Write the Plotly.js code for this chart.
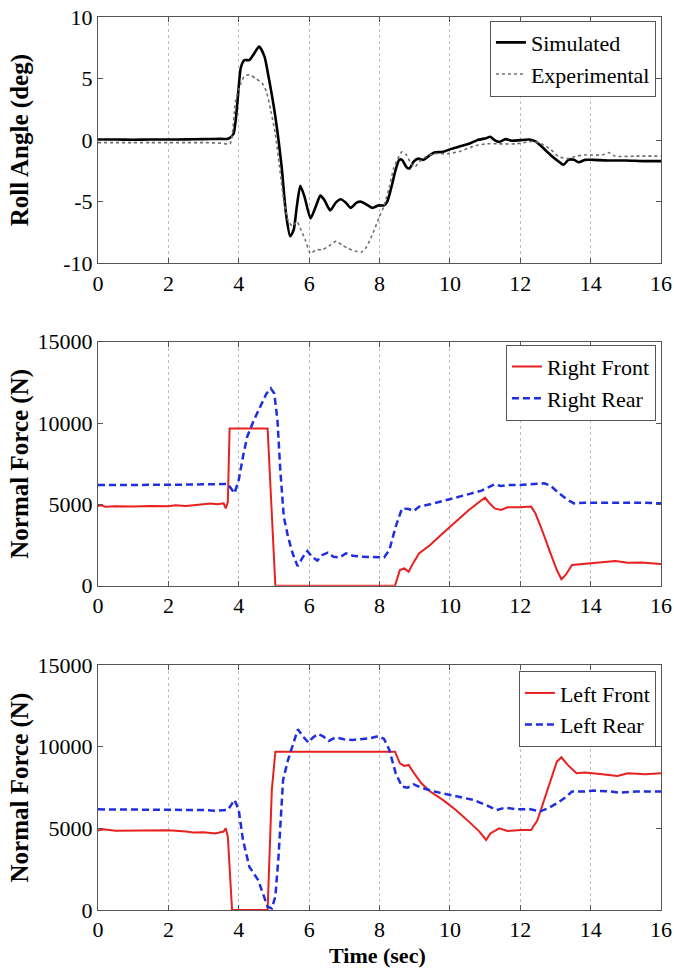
<!DOCTYPE html>
<html>
<head>
<meta charset="utf-8">
<script src="https://cdn.plot.ly/plotly-3.0.1.min.js"></script>
<style>html,body{margin:0;padding:0;background:#fff;}#chart{width:674px;height:971px;}</style>
</head>
<body>
<div id="chart"></div>
<script>
// ---- Roll angle (deg) ----
const simT = [0,0.5,1,1.5,2,2.5,3,3.5,3.7,3.85,4.06,4.16,4.3,4.43,4.58,4.73,4.85,5.04,5.22,5.34,5.46,5.56,5.65,5.75,5.87,6.04,6.2,6.32,6.44,6.6,6.75,6.9,7.05,7.18,7.36,7.48,7.67,7.8,7.97,8.13,8.22,8.34,8.46,8.56,8.64,8.77,8.85,8.97,9.1,9.25,9.44,9.56,9.8,10.05,10.3,10.54,10.78,11.03,11.15,11.27,11.4,11.58,11.76,12.0,12.25,12.43,12.6,12.86,13.1,13.23,13.37,13.53,13.66,13.84,14.08,14.5,15,15.5,16];
const simRoll = [0.05,0.05,0.03,0.05,0.05,0.06,0.08,0.1,0.12,0.5,5.9,6.5,6.5,7.0,7.6,6.8,5.1,1.9,-2.2,-5.9,-7.8,-7.3,-5.4,-3.7,-4.6,-6.35,-5.3,-4.5,-4.9,-5.7,-5.1,-4.8,-5.1,-5.5,-5.05,-5.0,-5.3,-5.5,-5.3,-5.3,-5.0,-3.8,-2.4,-1.6,-1.6,-2.2,-2.3,-1.75,-1.5,-1.6,-1.2,-1.0,-0.95,-0.7,-0.5,-0.3,0.0,0.16,0.27,0.0,-0.14,0.08,-0.05,0.0,0.05,-0.1,-0.5,-1.2,-1.75,-2.0,-1.6,-1.6,-1.8,-1.6,-1.6,-1.65,-1.65,-1.7,-1.7];
const expT = [0,0.5,1,1.5,2,2.5,3,3.5,3.75,3.91,4.06,4.16,4.3,4.49,4.67,4.79,4.91,5.04,5.16,5.28,5.4,5.53,5.65,5.77,5.89,6.04,6.2,6.38,6.56,6.77,6.93,7.11,7.3,7.48,7.6,7.73,7.85,8.0,8.12,8.28,8.4,8.52,8.64,8.77,8.89,9.0,9.13,9.32,9.56,9.93,10.3,10.66,11.03,11.4,11.88,12.37,12.6,12.86,13.1,13.35,13.6,13.84,14.33,14.5,14.7,15.3,16];
const expRoll = [-0.2,-0.2,-0.2,-0.2,-0.2,-0.2,-0.2,-0.25,-0.3,3.2,4.6,5.2,5.3,5.0,4.6,3.9,2.4,0.5,-2.2,-4.9,-6.5,-7.0,-6.6,-7.3,-8.1,-9.2,-8.9,-8.9,-8.6,-8.2,-8.5,-8.8,-9.0,-9.1,-8.8,-8.1,-7.3,-6.2,-5.4,-3.8,-2.3,-1.5,-0.95,-1.2,-1.9,-2.2,-1.75,-1.35,-1.1,-1.1,-0.9,-0.5,-0.3,-0.3,-0.3,-0.1,-0.3,-0.75,-1.35,-1.5,-1.3,-1.2,-1.2,-1.0,-1.3,-1.3,-1.3];

// ---- Right side normal force (N) ----
const rfT = [0,0.1,0.2,0.5,1,1.5,2,2.2,2.5,2.8,3,3.2,3.4,3.57,3.63,3.69,3.74,4.82,5.04,8.44,8.58,8.7,8.83,8.95,9.13,9.44,9.8,10.17,10.54,10.84,11.0,11.09,11.27,11.45,11.64,12.0,12.31,12.43,12.62,12.86,13.04,13.17,13.29,13.47,13.66,13.96,14.33,14.7,15.06,15.43,16];
const rfForce = [4900,4950,4850,4880,4870,4900,4880,4950,4900,4980,5000,5050,5000,5060,4750,5160,9670,9670,0,0,960,1065,860,1370,1990,2500,3220,3930,4650,5160,5410,5160,4750,4650,4820,4820,4860,4450,3420,1990,960,390,660,1270,1310,1370,1410,1520,1410,1430,1330];
const rrT = [0,1,2,3,3.69,3.88,4.0,4.12,4.24,4.43,4.61,4.79,4.91,5.01,5.1,5.18,5.28,5.4,5.53,5.67,5.83,5.95,6.08,6.23,6.38,6.53,6.69,6.87,7.05,7.24,7.48,7.73,7.97,8.13,8.28,8.46,8.64,8.83,8.97,9.13,9.44,9.8,10.17,10.54,10.9,11.15,11.27,11.45,11.64,12.0,12.37,12.68,12.86,13.1,13.35,13.53,13.84,14.33,14.82,15.43,16];
const rrForce = [6190,6180,6200,6230,6250,5680,6500,7930,9160,10180,11000,11820,12130,11820,10180,7110,4240,3010,1990,1210,1780,2130,1780,1540,1890,2030,1780,1740,1990,1840,1780,1780,1740,1740,2190,3630,4750,4710,4590,4860,5000,5220,5410,5630,5840,6090,6230,6130,6190,6190,6230,6290,6150,5680,5270,5060,5100,5100,5120,5100,5060];

// ---- Left side normal force (N) ----
const lfT = [0,0.15,0.5,1,1.5,2,2.5,2.7,3.0,3.33,3.57,3.63,3.69,3.75,3.81,4.82,4.94,5.04,8.44,8.58,8.7,8.83,8.95,9.19,9.44,9.8,10.17,10.54,10.84,11.03,11.15,11.4,11.64,12.0,12.31,12.49,12.68,12.86,13.04,13.17,13.35,13.6,13.84,14.33,14.76,15.06,15.55,16];
const lfForce = [4860,4940,4850,4870,4860,4880,4800,4740,4760,4690,4800,5000,4490,2240,0,0,7350,9690,9690,8980,8820,8880,8470,7760,7250,6740,6120,5410,4800,4290,4690,5000,4840,4900,4900,5510,6740,7960,9080,9350,8880,8370,8410,8310,8200,8370,8310,8370];
const lrT = [0,1,2,3,3.33,3.69,3.88,4.0,4.12,4.3,4.55,4.7,4.82,4.94,5.04,5.13,5.26,5.4,5.53,5.68,5.83,5.98,6.11,6.26,6.41,6.56,6.75,6.99,7.24,7.48,7.73,7.97,8.13,8.28,8.46,8.64,8.8,8.97,9.19,9.56,9.93,10.3,10.66,11.03,11.33,11.58,11.88,12.25,12.56,12.8,13.04,13.29,13.47,13.84,14.08,14.57,14.82,15.31,16];
const lrForce = [6160,6160,6150,6120,6080,6120,6740,6120,4290,2650,1840,920,200,100,820,3270,7960,9180,10000,11060,10610,10250,10570,10780,10610,10350,10570,10450,10410,10470,10510,10650,10470,9800,8370,7550,7490,7690,7490,7250,7080,6940,6740,6430,6120,6270,6160,6180,6040,6230,6530,6900,7250,7250,7310,7250,7180,7250,7250];

// ---- Tick labels ----
const xTicks = [0,2,4,6,8,10,12,14,16];
const xTickText = ['0','2','4','6','8','10','12','14','16'];
const rollTicks = [-10,-5,0,5,10];
const rollTickText = ['-10','-5','0','5','10'];
const forceTicks = [0,5000,10000,15000];
const forceTickText = ['0','5000','10000','15000'];

const serif = '"Liberation Serif", "Times New Roman", serif';
const tf = () => ({family: serif, size: 22, color: '#000'});

const traces = [
  {x: simT, y: simRoll, name: 'Simulated', mode: 'lines', line: {color: '#000', width: 2.6, shape: 'spline', smoothing: 0.6}, xaxis: 'x', yaxis: 'y', legend: 'legend'},
  {x: expT, y: expRoll, name: 'Experimental', mode: 'lines', line: {color: '#6e6e6e', width: 1.6, dash: 'dot', shape: 'spline', smoothing: 0.6}, xaxis: 'x', yaxis: 'y', legend: 'legend'},
  {x: rfT, y: rfForce, name: 'Right Front', mode: 'lines', line: {color: '#e8201f', width: 2}, xaxis: 'x2', yaxis: 'y2', legend: 'legend2'},
  {x: rrT, y: rrForce, name: 'Right Rear', mode: 'lines', line: {color: '#1f2ee0', width: 2.5, dash: '7px,4px'}, xaxis: 'x2', yaxis: 'y2', legend: 'legend2'},
  {x: lfT, y: lfForce, name: 'Left Front', mode: 'lines', line: {color: '#e8201f', width: 2}, xaxis: 'x3', yaxis: 'y3', legend: 'legend3'},
  {x: lrT, y: lrForce, name: 'Left Rear', mode: 'lines', line: {color: '#1f2ee0', width: 2.5, dash: '7px,4px'}, xaxis: 'x3', yaxis: 'y3', legend: 'legend3'}
];

function xax(anchor) {
  return {anchor: anchor, range: [0, 16], tickmode: 'array', tickvals: xTicks, ticktext: xTickText, ticks: 'inside', ticklen: 5, tickcolor: '#555',
    showline: true, linecolor: '#555', linewidth: 1, mirror: 'ticks', showgrid: true, gridcolor: '#bdbdbd',
    griddash: 'dot', gridwidth: 1, zeroline: false, tickfont: tf()};
}
function yax(anchor, dom, range, ticks, text) {
  return {anchor: anchor, domain: dom, range: range, tickmode: 'array', tickvals: ticks, ticktext: text, ticks: 'inside', ticklen: 5, tickcolor: '#555',
    showline: true, linecolor: '#555', linewidth: 1, mirror: 'ticks', showgrid: false, zeroline: false,
    tickfont: tf()};
}
function leg(y, x) {
  return {x: x, y: y, xanchor: 'right', yanchor: 'top', bgcolor: '#fff', bordercolor: '#555', borderwidth: 1,
    font: tf(), tracegroupgap: 0, itemwidth: 30};
}

const layout = {
  width: 674, height: 971,
  margin: {l: 98, r: 13, t: 17, b: 61},
  font: tf(),
  paper_bgcolor: '#fff', plot_bgcolor: '#fff',
  showlegend: true,
  xaxis: xax('y'), xaxis2: xax('y2'), xaxis3: xax('y3'),
  yaxis: yax('x', [0.7242, 1.0], [-10, 10], rollTicks, rollTickText),
  yaxis2: yax('x2', [0.3632, 0.6364], [0, 15000], forceTicks, forceTickText),
  yaxis3: yax('x3', [0, 0.2744], [0, 15000], forceTicks, forceTickText),
  legend: leg(0.996, 0.991),
  legend2: leg(0.633, 0.991),
  legend3: leg(0.2675, 0.991),
  annotations: [
    {text: '<b>Roll Angle (deg)</b>', xref: 'paper', yref: 'paper', x: -0.1385, y: 0.862, textangle: -90, showarrow: false, xanchor: 'center', yanchor: 'middle', font: {family: serif, size: 25, color: '#000'}},
    {text: '<b>Normal Force (N)</b>', xref: 'paper', yref: 'paper', x: -0.1385, y: 0.4998, textangle: -90, showarrow: false, xanchor: 'center', yanchor: 'middle', font: {family: serif, size: 25, color: '#000'}},
    {text: '<b>Normal Force (N)</b>', xref: 'paper', yref: 'paper', x: -0.1385, y: 0.1372, textangle: -90, showarrow: false, xanchor: 'center', yanchor: 'middle', font: {family: serif, size: 25, color: '#000'}},
    {text: '<b>Time (sec)</b>', xref: 'paper', yref: 'paper', x: 0.497, y: -0.0504, showarrow: false, xanchor: 'center', yanchor: 'middle', font: {family: serif, size: 22, color: '#000'}}
  ]
};

Plotly.newPlot('chart', traces, layout, {displayModeBar: false, staticPlot: true});
</script>
</body>
</html>
